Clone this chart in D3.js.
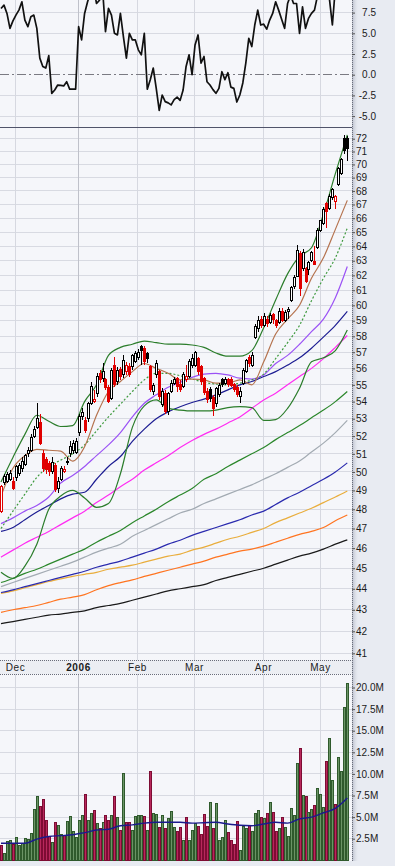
<!DOCTYPE html>
<html>
<head>
<meta charset="utf-8">
<script src="https://cdn.jsdelivr.net/npm/d3@7"></script>
<style>
  html, body { margin: 0; padding: 0; background: #e8ebf2; }
  svg { display: block; font-family: "Liberation Sans", Arial, sans-serif; }
</style>
</head>
<body>
<div id="chart"></div>
<script>
// trading days on the chart
const dates = [
  "2005-11-23","2005-11-25","2005-11-28","2005-11-29","2005-11-30",
  "2005-12-01","2005-12-02","2005-12-05","2005-12-06","2005-12-07","2005-12-08","2005-12-09",
  "2005-12-12","2005-12-13","2005-12-14","2005-12-15","2005-12-16","2005-12-19","2005-12-20",
  "2005-12-21","2005-12-22","2005-12-23","2005-12-27","2005-12-28","2005-12-29","2005-12-30",
  "2006-01-03","2006-01-04","2006-01-05","2006-01-06","2006-01-09","2006-01-10","2006-01-11",
  "2006-01-12","2006-01-13","2006-01-17","2006-01-18","2006-01-19","2006-01-20","2006-01-23",
  "2006-01-24","2006-01-25","2006-01-26","2006-01-27","2006-01-30","2006-01-31",
  "2006-02-01","2006-02-02","2006-02-03","2006-02-06","2006-02-07","2006-02-08","2006-02-09",
  "2006-02-10","2006-02-13","2006-02-14","2006-02-15","2006-02-16","2006-02-17","2006-02-21",
  "2006-02-22","2006-02-23","2006-02-24","2006-02-27","2006-02-28",
  "2006-03-01","2006-03-02","2006-03-03","2006-03-06","2006-03-07","2006-03-08","2006-03-09",
  "2006-03-10","2006-03-13","2006-03-14","2006-03-15","2006-03-16","2006-03-17","2006-03-20",
  "2006-03-21","2006-03-22","2006-03-23","2006-03-24","2006-03-27","2006-03-28","2006-03-29",
  "2006-03-30","2006-03-31",
  "2006-04-03","2006-04-04","2006-04-05","2006-04-06","2006-04-07","2006-04-10","2006-04-11",
  "2006-04-12","2006-04-13","2006-04-17","2006-04-18","2006-04-19","2006-04-20","2006-04-21",
  "2006-04-24","2006-04-25","2006-04-26","2006-04-27","2006-04-28",
  "2006-05-01","2006-05-02","2006-05-03","2006-05-04","2006-05-05","2006-05-08","2006-05-09",
  "2006-05-10","2006-05-11","2006-05-12"
];

const prevClose = 49.6;
const open = [47.9,49.4,49.5,49.6,49.5, 49.7,49.9,50.2,50.4,51.0,51.2,52.0, 52.5,52.8,51.0,50.7,50.45,50.0,50.35,
  49.1,49.6,50.0,50.5,51.0,51.2,51.1, 52.2,53.1,52.9,53.0,53.9,54.0,54.5, 55.7,55.4,55.3,54.85,54.2,56.2,55.2,
  55.95,55.6,55.8,56.1,56.1,56.4, 56.7,57.35,57.2,56.9,56.1,54.6,55.6, 55.8,53.8,54.5,53.4,54.6,55.1,55.4,
  55.0,54.9,55.3,55.5,56.2, 56.2,56.6,56.1,55.4,54.6,54.7,54.25, 53.9,54.4,55.3,55.1,55.3,55.3,55.0,
  54.85,54.3,55.1,55.8,56.7,56.2,57.9, 58.5,59.1, 58.7,59.1,58.9,59.4,59.0,58.9,59.6, 59.0,59.6,60.35,61.25,61.95,63.5,62.5,
  62.5,62.4,63.0,62.95,63.9, 65.15,65.6,67.1,66.7,67.5,67.2,68.5, 69.3,72.0,72.0];
const high = [49.3,49.9,50.0,50.1,49.7, 50.4,50.5,50.8,51.0,51.4,52.1,52.6, 53.9,53.3,51.2,50.8,50.6,50.8,50.5,
  49.7,50.3,50.3,50.8,51.7,51.8,51.9, 53.3,53.6,53.1,54.0,55.2,54.7,55.7, 55.9,56.3,55.4,55.0,56.0,56.7,56.1,
  56.1,56.8,56.4,56.3,56.9,57.1, 57.2,57.45,57.4,57.0,56.2,55.1,56.5, 55.9,54.8,54.7,54.6,55.3,55.5,55.5,
  55.3,55.8,56.2,56.6,56.9, 57.1,56.7,56.2,55.5,54.8,54.9,54.4, 54.9,55.1,55.4,55.5,55.4,55.5,55.1,
  55.0,54.9,56.0,56.6,56.8,57.0,58.8, 59.3,59.3, 59.5,59.3,59.5,59.5,59.1,59.8,59.8, 59.7,59.9,61.3,62.0,64.1,63.7,63.8,
  62.6,63.0,63.7,64.0,65.3, 65.9,66.8,67.2,67.8,68.2,67.7,69.8, 70.5,72.3,72.2];
const low = [47.8,49.3,49.4,49.5,49.0, 49.5,49.8,50.0,50.3,50.8,51.1,51.9, 52.4,51.5,50.0,49.9,49.8,49.9,48.9,
  48.85,49.5,49.95,50.4,50.8,51.0,51.0, 52.0,52.9,52.2,52.8,53.8,53.9,54.3, 55.1,55.2,54.7,53.9,54.1,54.9,55.0,
  55.3,55.4,55.6,55.5,55.9,56.3, 56.5,56.2,56.2,56.3,54.6,54.4,55.4, 54.1,53.7,53.3,53.2,54.5,55.0,54.6,
  54.6,54.8,55.2,55.4,56.0, 56.1,55.6,55.0,54.4,53.9,54.0,53.15, 53.7,54.3,54.9,55.0,54.9,54.9,54.6,
  54.3,53.9,55.0,55.7,56.1,56.1,57.8, 58.3,58.5, 58.6,58.6,58.8,58.8,58.5,58.8,58.9, 58.9,59.1,60.2,61.1,61.9,60.6,62.3,
  61.5,62.0,62.9,62.7,63.8, 65.0,65.5,65.3,66.6,67.3,66.7,68.4, 69.2,70.8,70.3];
const close = [49.2,49.75,49.85,49.9,49.1, 50.3,50.35,50.6,50.9,51.2,51.9,52.4, 53.0,51.6,50.2,50.15,50.0,50.5,49.05,
  49.5,50.2,50.15,50.55,51.4,51.6,51.7, 53.1,53.35,52.3,53.9,54.9,54.15,55.5, 55.35,55.8,54.85,54.0,55.9,55.0,55.9,
  55.5,56.5,56.2,55.6,56.8,56.9, 57.0,57.1,56.4,56.6,54.7,54.95,56.3, 54.3,54.6,53.4,54.5,55.1,55.35,54.9,
  54.7,55.6,55.5,56.4,56.6, 56.95,55.8,55.2,54.55,54.1,54.2,53.6, 54.8,54.95,55.05,55.3,55.0,54.95,54.7,
  54.4,54.6,55.9,56.5,56.3,56.8,58.6, 59.0,58.7, 59.3,58.8,59.35,59.1,58.7,59.6,59.0, 59.55,59.7,61.2,61.85,63.7,61.1,63.6,
  61.6,62.85,63.6,62.75,65.15, 65.8,66.6,66.5,67.6,68.1,67.6,69.7, 70.35,71.1,71.2];

// volume in millions of shares
const volume = [1.77,0.8,2.24,2.35,1.92, 2.66,1.77,2.04,2.54,2.42,3.16,5.9, 7.5,6.3,7.1,4.7,2.8,2.1,4.4,
  4.1,3.0,2.9,4.5,5.1,3.4,2.7, 4.7,5.3,7.7,4.7,5.5,5.8,4.3, 3.7,4.4,5.2,4.7,5.3,7.4,5.0,
  3.5,10.1,4.4,4.4,3.5,5.1, 5.2,5.2,5.1,3.5,10.3,5.5,5.4, 3.8,5.2,3.7,4.9,5.7,3.9,3.4,
  3.9,2.4,5.0,2.3,3.5, 4.3,4.0,3.0,5.4,4.0,6.8,3.7, 6.6,2.3,2.7,4.7,3.3,2.3,1.9,
  4.6,1.2,4.0,3.7,4.1,3.4,5.5, 5.8,5.0, 4.9,5.5,6.7,5.6,3.4,3.7,5.0, 3.8,2.8,6.0,5.2,11.3,13.0,7.6,
  7.4,5.6,5.9,6.4,8.4, 7.7,6.2,11.5,14.2,9.3,6.5,12.0, 10.3,17.7,20.5];

// top indicator
const oscillator = [8.0,8.4,7.4,5.6,6.5, 7.2,7.8,8.8,6.6,5.8,7.0,7.2, 5.6,2.0,1.0,0.8,2.3,-2.25,-1.85,
  -1.25,-1.3,-1.35,-0.85,-1.75,-1.75,-1.75, 5.8,4.2,7.4,8.8,10.0,10.5,8.6, 9.0,10.5,5.2,8.0,7.2,5.0,4.8,
  7.4,4.6,2.0,5.0,4.2,4.2, 3.0,2.4,5.0,-1.75,-0.6,0.8,-1.65, -4.3,-2.45,-3.25,-3.4,-3.65,-3.0,-2.7,
  -3.1,-1.85,1.0,2.4,0.0, 3.6,4.8,1.4,2.2,-0.85,-1.25,-1.8, -2.25,-1.65,0.36,-0.6,0.24,-1.5,-1.65,
  -3.3,-2.45,-1.0,1.4,4.4,3.4,6.0, 7.8,6.0, 6.1,5.5,6.6,7.4,8.8,7.8,6.7, 5.6,8.6,9.6,8.6,8.6,5.0,8.2,
  5.6,6.8,7.4,7.8,9.5, 11,12,11.5,9.2,6.0,10.5,12, 13,13.5,14];

// moving averages and bands, read every 4th trading day
const maDays = [0,4,8,12,16,20,24,28,32,36,40,44,48,52,56,60,64,68,72,76,80,84,88,92,96,100,104,108,112,116];
const bbUpper = [49.45,50.8,52.1,53.2,52.85,52.55,52.6,54.0,55.0,56.8,57.3,57.5,57.7,57.6,57.5,57.5,57.45,57.3,56.95,56.75,56.75,57.1,58.55,60.35,62.1,63.3,63.9,66.3,69.3,72.3];
const bbLower = [44.8,44.5,45.1,46.2,48.0,48.7,49.0,48.6,48.1,48.3,49.9,52.5,53.75,54.1,53.6,53.5,53.45,53.45,53.5,53.65,53.7,53.65,52.9,52.95,53.6,54.8,56.4,56.65,57.1,58.4];
const maBrown = [48.7,50.2,50.9,51.25,51.2,51.15,50.6,51.4,53.2,54.6,55.2,55.8,56.3,56.0,55.7,55.3,55.35,55.3,55.1,55.1,55.3,55.0,56.4,58.15,59.1,60.0,61.8,63.2,65.2,67.3];
const maDotted = [47.0,47.9,48.8,49.7,50.3,50.65,51.0,51.5,52.3,53.1,53.85,54.6,55.3,55.7,55.7,55.55,55.35,55.15,55.05,55.0,55.1,55.3,55.65,56.6,57.6,58.7,60.3,61.8,63.2,65.3];
const maPurple = [47.25,47.55,47.9,48.2,48.65,49.4,49.8,50.3,50.9,51.5,52.2,53.1,53.9,54.4,54.85,55.15,55.45,55.65,55.7,55.6,55.4,55.35,55.6,56.3,56.8,57.5,58.3,59.1,60.5,62.6];
const maNavy = [46.85,47.05,47.45,47.85,48.2,48.55,48.8,48.9,49.6,50.3,50.85,51.7,52.4,53.0,53.4,53.7,53.95,54.15,54.4,54.7,55.0,55.2,55.5,55.8,56.2,56.65,57.25,57.95,58.7,59.6];
const maMagenta = [45.55,45.9,46.25,46.55,46.85,47.2,47.55,47.9,48.35,48.75,49.2,49.6,50.1,50.5,50.9,51.35,51.75,52.1,52.4,52.75,53.1,53.6,54.1,54.5,55.0,55.5,56.0,56.6,57.3,58.05];
const maGreen = [44.3,44.5,44.75,44.95,45.2,45.45,45.7,45.95,46.3,46.6,46.9,47.3,47.65,48.0,48.4,48.75,49.1,49.6,49.9,50.3,50.65,51.0,51.35,51.8,52.2,52.6,53.05,53.5,54.0,54.6];
const maGray = [44.1,44.3,44.5,44.7,44.9,45.1,45.3,45.55,45.8,46.0,46.2,46.6,46.9,47.2,47.5,47.8,48.0,48.3,48.55,48.8,49.05,49.3,49.6,49.9,50.25,50.6,51.1,51.6,52.2,52.9];
const maBlue = [43.82,43.95,44.1,44.25,44.4,44.55,44.7,44.85,45.05,45.2,45.35,45.55,45.75,45.95,46.2,46.4,46.65,46.85,47.05,47.25,47.45,47.7,47.9,48.25,48.6,48.9,49.25,49.6,50.0,50.5];
const maGold = [43.77,43.9,44.05,44.2,44.35,44.48,44.6,44.7,44.8,44.95,45.05,45.15,45.3,45.45,45.6,45.7,45.9,46.05,46.25,46.45,46.6,46.8,47.0,47.3,47.55,47.8,48.05,48.35,48.65,48.97];
const maOrange = [42.88,43.0,43.1,43.2,43.35,43.5,43.6,43.72,43.95,44.15,44.3,44.43,44.6,44.75,44.9,45.05,45.2,45.35,45.55,45.7,45.85,45.95,46.1,46.3,46.5,46.7,46.85,47.05,47.4,47.7];
const maBlack = [42.35,42.45,42.55,42.65,42.75,42.8,42.88,42.95,43.1,43.2,43.3,43.45,43.6,43.75,43.9,44.0,44.1,44.2,44.4,44.55,44.7,44.85,45.0,45.2,45.4,45.6,45.75,45.95,46.2,46.42];
const volAvg = [1.97,1.97,1.97,2.45,2.75,2.85,2.95,3.2,3.5,3.6,4.0,4.1,4.3,4.4,4.4,4.4,4.3,4.35,4.4,4.2,4.05,4.0,4.2,4.4,4.3,4.8,5.0,5.5,6.0,7.2];

const priceTicks = d3.range(41, 73);
const oscTicks = [-5, -2.5, 0, 2.5, 5, 7.5];
const volTicks = [2.5, 5, 7.5, 10, 12.5, 15, 17.5, 20];
const monthNames = ["Jan","Feb","Mar","Apr","May","Jun","Jul","Aug","Sep","Oct","Nov","Dec"];

// ---- layout ----
const W = 395, H = 866;
const plotR = 352;
const pOsc = { top: 0, bottom: 127.5 };
const pMain = { top: 128, bottom: 660 };
const pVol = { top: 674, bottom: 861 };

const svg = d3.select("#chart").append("svg")
  .attr("width", W).attr("height", H);

const defs = svg.append("defs");
const shade = defs.append("linearGradient").attr("id", "shade").attr("x1", 0).attr("x2", 1);
shade.append("stop").attr("offset", 0).attr("stop-color", "#8e94a6").attr("stop-opacity", 0.55);
shade.append("stop").attr("offset", 1).attr("stop-color", "#e8ebf2").attr("stop-opacity", 0);

[["clipOsc", pOsc], ["clipMain", pMain], ["clipVol", pVol]].forEach(([id, p]) => {
  defs.append("clipPath").attr("id", id).append("rect")
    .attr("x", 0).attr("y", p.top).attr("width", plotR).attr("height", p.bottom - p.top);
});

// scales
const x = d3.scaleLinear().domain([0, dates.length - 1]).range([1.0, 347.3]);
const yOsc = d3.scaleLinear().domain([-5, 7.5]).range([116.1, 12.6]);
const yP = d3.scaleLog().domain([41, 72]).range([653.3, 138.7]);
const yV = d3.scaleLinear().domain([0, 20]).range([860.3, 687.5]);

const snap = v => Math.round(v - 0.5) + 0.5;

// month starts
const parsed = dates.map(d => new Date(d + "T12:00:00"));
const monthStarts = [];
parsed.forEach((d, i) => {
  if (i > 0 && d.getMonth() !== parsed[i - 1].getMonth()) monthStarts.push(i);
});
const gridX = i => Math.floor(x(i) - 0.4) + 0.5;

// panel backgrounds
[pOsc, pMain, pVol].forEach(p => {
  svg.append("rect").attr("x", 0).attr("y", p.top).attr("width", plotR)
    .attr("height", p.bottom - p.top).attr("fill", "#f5f6fa");
});
// date strip
svg.append("rect").attr("x", 0).attr("y", pMain.bottom).attr("width", plotR)
  .attr("height", pVol.top - pMain.bottom).attr("fill", "#eceef3");

// shadow right of the panels
svg.append("rect").attr("x", plotR).attr("y", 0).attr("width", 7).attr("height", pVol.bottom)
  .attr("fill", "url(#shade)");

function vGrid(p) {
  svg.append("g").selectAll("line").data(monthStarts).join("line")
    .attr("x1", gridX).attr("x2", gridX)
    .attr("y1", p.top).attr("y2", p.bottom)
    .attr("stroke", i => parsed[i].getMonth() === 0 ? "#bfc1ca" : "#d6d8e0")
    .attr("stroke-width", 1);
}
function hGrid(p, ticks, scale) {
  svg.append("g").selectAll("line").data(ticks).join("line")
    .attr("x1", 0).attr("x2", plotR)
    .attr("y1", d => snap(scale(d))).attr("y2", d => snap(scale(d)))
    .attr("stroke", "#d8dae2").attr("stroke-width", 1);
}

// ---- top indicator panel ----
hGrid(pOsc, oscTicks.filter(v => v !== 0), yOsc);
vGrid(pOsc);
svg.append("line").attr("x1", 0).attr("x2", plotR)
  .attr("y1", snap(yOsc(0))).attr("y2", snap(yOsc(0)))
  .attr("stroke", "#7a7a82").attr("stroke-dasharray", "9,3,2,3");
svg.append("path")
  .attr("clip-path", "url(#clipOsc)")
  .datum(oscillator)
  .attr("fill", "none").attr("stroke", "#111").attr("stroke-width", 1.7)
  .attr("stroke-linejoin", "round")
  .attr("d", d3.line().x((d, i) => x(i)).y(d => yOsc(d)));

// ---- price panel ----
hGrid(pMain, priceTicks, yP);
vGrid(pMain);

const gMain = svg.append("g").attr("clip-path", "url(#clipMain)");
const maLine = d3.line().x(d => x(d[0])).y(d => yP(d[1])).curve(d3.curveMonotoneX);
const lines = [
  { v: maBlack, c: "#1a1a1a" },
  { v: maOrange, c: "#ff7420" },
  { v: maGold, c: "#e9ad3c" },
  { v: maBlue, c: "#2a2aae" },
  { v: maGray, c: "#a2aab2" },
  { v: maGreen, c: "#2b872b" },
  { v: maMagenta, c: "#ff2cf2" },
  { v: maNavy, c: "#1c1c92" },
  { v: maPurple, c: "#9b52f5" },
  { v: maDotted, c: "#3f9a3f", dash: "2,2" },
  { v: maBrown, c: "#b5734f" },
  { v: bbLower, c: "#2b7d2b" },
  { v: bbUpper, c: "#2b7d2b" }
];
lines.forEach(l => {
  gMain.append("path")
    .datum(maDays.map((d, k) => [d, l.v[k]]))
    .attr("fill", "none").attr("stroke", l.c).attr("stroke-width", 1.2)
    .attr("stroke-dasharray", l.dash || null)
    .attr("d", maLine);
});

const bars = dates.map((d, i) => ({
  i, o: open[i], h: high[i], l: low[i], c: close[i], v: volume[i],
  up: close[i] >= (i ? close[i - 1] : prevClose)
}));

const gC = gMain.append("g").attr("shape-rendering", "crispEdges");
gC.selectAll("line").data(bars).join("line")
  .attr("x1", d => Math.round(x(d.i)) + 0.5).attr("x2", d => Math.round(x(d.i)) + 0.5)
  .attr("y1", d => yP(d.h)).attr("y2", d => yP(d.l))
  .attr("stroke", d => d.up ? "#000" : "#e00000");
gC.selectAll("rect").data(bars).join("rect")
  .attr("x", d => Math.round(x(d.i)) - 0.5)
  .attr("width", 2)
  .attr("y", d => yP(Math.max(d.o, d.c)))
  .attr("height", d => Math.max(1, yP(Math.min(d.o, d.c)) - yP(Math.max(d.o, d.c))))
  .attr("fill", d => d.c > d.o ? "#fff" : (d.up ? "#000" : "#e00000"))
  .attr("stroke", d => d.up ? "#000" : "#e00000");

// ---- volume panel ----
hGrid(pVol, volTicks, yV);
vGrid(pVol);
const gV = svg.append("g").attr("clip-path", "url(#clipVol)").attr("shape-rendering", "crispEdges");
gV.selectAll("rect").data(bars).join("rect")
  .attr("x", d => Math.round(x(d.i)) - 0.5)
  .attr("width", 2)
  .attr("y", d => Math.round(yV(d.v)) + 0.5)
  .attr("height", d => yV(0) - Math.round(yV(d.v)))
  .attr("fill", d => d.up ? "#6b9466" : "#b8285c")
  .attr("stroke", d => d.up ? "#2f5a2c" : "#7d0c33");
svg.append("path")
  .attr("clip-path", "url(#clipVol)")
  .datum(maDays.map((d, k) => [d, volAvg[k]]))
  .attr("fill", "none").attr("stroke", "#1a1a8c").attr("stroke-width", 1.4)
  .attr("d", d3.line().x(d => x(d[0])).y(d => yV(d[1])).curve(d3.curveMonotoneX));

// ---- borders ----
svg.append("line").attr("x1", 0).attr("x2", plotR).attr("y1", 127.5).attr("y2", 127.5)
  .attr("stroke", "#50546a");
[pMain.bottom + 0.5, pVol.top + 0.5].forEach(y => {
  svg.append("line").attr("x1", 0).attr("x2", plotR).attr("y1", y).attr("y2", y)
    .attr("stroke", "#6a6d7a").attr("stroke-dasharray", "1,1");
});
svg.append("line").attr("x1", plotR + 0.5).attr("x2", plotR + 0.5).attr("y1", 0).attr("y2", pVol.bottom)
  .attr("stroke", "#6a6d7a").attr("stroke-dasharray", "1,1");

// ---- axes ----
function styleAxis(g) {
  g.select(".domain").remove();
  g.selectAll(".tick line").attr("stroke", "#555");
  g.selectAll(".tick text").attr("fill", "#1a1a1a").attr("font-size", 10)
    .attr("font-family", '"Liberation Sans", Arial, sans-serif');
}
svg.append("g").attr("transform", `translate(${plotR},0)`)
  .call(d3.axisRight(yOsc).tickValues(oscTicks).tickFormat(v => v.toFixed(1)).tickSize(3).tickPadding(2))
  .call(styleAxis)
  .call(g => g.selectAll(".tick text").attr("text-anchor", "end").attr("x", 24));
svg.append("g").attr("transform", `translate(${plotR},0)`)
  .call(d3.axisRight(yP).tickValues(priceTicks).tickFormat(d3.format("d")).tickSize(3).tickPadding(1))
  .call(styleAxis);
svg.append("g").attr("transform", `translate(${plotR},0)`)
  .call(d3.axisRight(yV).tickValues(volTicks).tickFormat(v => v.toFixed(1) + "M").tickSize(3).tickPadding(1))
  .call(styleAxis);

const xAxis = svg.append("g").attr("transform", `translate(0,${pMain.bottom})`)
  .call(d3.axisBottom(x).tickValues(monthStarts)
    .tickFormat(i => parsed[i].getMonth() === 0 ? String(parsed[i].getFullYear()) : monthNames[parsed[i].getMonth()])
    .tickSize(0).tickPadding(4));
xAxis.select(".domain").remove();
xAxis.selectAll(".tick").attr("transform", i => `translate(${gridX(i)},0)`);
xAxis.selectAll(".tick text").attr("fill", "#1a1a1a").attr("font-size", 10)
  .attr("font-family", '"Liberation Sans", Arial, sans-serif')
  .attr("letter-spacing", 0.6)
  .attr("font-weight", i => parsed[i].getMonth() === 0 ? "bold" : "normal");
</script>
</body>
</html>
